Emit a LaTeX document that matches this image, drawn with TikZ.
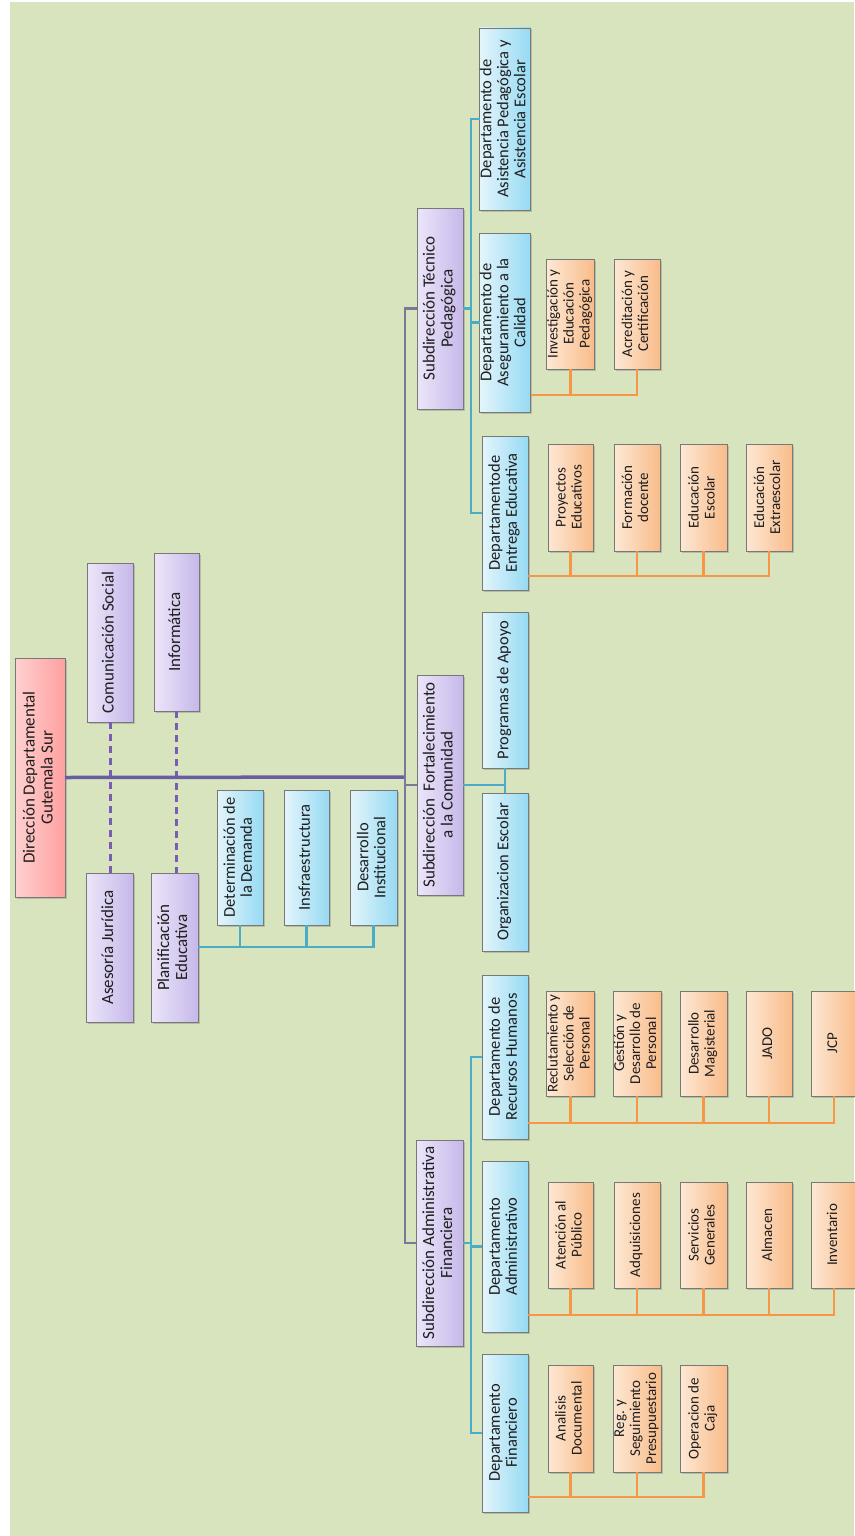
\documentclass[tikz,border=0pt]{standalone}
\usepackage{fontspec}
\setmainfont{Carlito}
\usepackage{graphicx}
\usetikzlibrary{shadows}
\definecolor{bgc}{RGB}{216,228,189}
\definecolor{txt}{RGB}{30,30,30}
\definecolor{bord}{RGB}{120,120,120}
\definecolor{pinkL}{RGB}{255,208,208}
\definecolor{pinkR}{RGB}{255,160,160}
\definecolor{purL}{RGB}{236,230,249}
\definecolor{purR}{RGB}{198,184,234}
\definecolor{bluL}{RGB}{228,245,251}
\definecolor{bluR}{RGB}{150,218,243}
\definecolor{orL}{RGB}{253,232,212}
\definecolor{orR}{RGB}{249,188,138}
\definecolor{trunkc}{RGB}{104,92,162}
\definecolor{busc}{RGB}{122,122,152}
\definecolor{dashc}{RGB}{122,92,182}
\definecolor{tealc}{RGB}{75,172,198}
\definecolor{orc}{RGB}{247,150,70}
\newcommand\rt[1]{\rotatebox{90}{\begin{tabular}{@{}c@{}}#1\end{tabular}}}
\newcommand\bx[7]{\node[#1, minimum width={(#5-#3)*1pt}, minimum height={(#6-#4)*1pt}] (#2) at ({(#3+#5)/2},{(#4+#6)/2}) {\rt{#7}};}
\tikzset{
  every node/.style={inner sep=0pt, outer sep=0pt, text=txt},
  box/.style={draw=bord, line width=0.7pt, rectangle, drop shadow={shadow xshift=1.5pt, shadow yshift=-1.5pt, opacity=0.3, fill=black!60}},
  pinkbox/.style={box, left color=pinkL, right color=pinkR, font=\fontsize{17}{18}\selectfont},
  purbox/.style={box, left color=purL, right color=purR, font=\fontsize{17}{18}\selectfont},
  blubox/.style={box, left color=bluL, right color=bluR, font=\fontsize{16.5}{17}\selectfont},
  orbox/.style={box, left color=orL, right color=orR, font=\fontsize{15}{16}\selectfont},
  trunk/.style={draw=trunkc, line width=3.5pt},
  busl/.style={draw=busc, line width=2.5pt},
  dsh/.style={draw=dashc, line width=3pt, dash pattern=on 7pt off 5pt},
  tl/.style={draw=tealc, line width=2.5pt},
  ol/.style={draw=orc, line width=2.5pt},
}
\begin{document}
\begin{tikzpicture}[x=1pt, y=-1pt]
\useasboundingbox (0,0) rectangle (854,1536);
\fill[white] (0,0) rectangle (854,1536);
\fill[bgc] (10,2) rectangle (854,1536);
% top level and staff
\bx{pinkbox}{dir}{15}{658}{65}{897}{Dirección Departamental\\Gutemala Sur}
\bx{purbox}{com}{87}{563}{133}{722}{Comunicación Social}
\bx{purbox}{inf}{154}{553}{199}{711}{Informática}
\bx{purbox}{ase}{86}{873}{133}{1022}{Asesoría Jurídica}
\bx{purbox}{pla}{151}{873}{198}{1022}{Planificación\\Educativa}
\bx{blubox}{det}{217}{790}{263}{925}{Determinación de\\la Demanda}
\bx{blubox}{infr}{284}{790}{329}{925}{Insfraestructura}
\bx{blubox}{dins}{350}{790}{397}{925}{Desarrollo\\Institucional}
% subdirecciones
\bx{purbox}{tec}{417}{208}{463}{409}{Subdirección Técnico\\Pedagógica}
\bx{purbox}{fort}{417}{675}{463}{895}{Subdirección\ \ Fortalecimiento\\a la Comunidad}
\bx{purbox}{sadm}{416}{1140}{463}{1346}{Subdirección Administrativa\\Financiera}
% departamentos
\bx{blubox}{asis}{482}{28}{528}{210}{Departamento de\\Asistencia Pedagógica y\\Asistencia Escolar}
\bx{blubox}{aseg}{482}{233}{528}{412}{Departamento de\\Aseguramiento a la\\Calidad}
\bx{blubox}{ent}{482}{436}{528}{590}{Departamentode\\Entrega Educativa}
\bx{blubox}{prog}{482}{612}{528}{768}{Programas de Apoyo}
\bx{blubox}{org}{482}{793}{528}{951}{Organizacion Escolar}
\bx{blubox}{rh}{482}{975}{528}{1139}{Departamento de\\Recursos Humanos}
\bx{blubox}{dadm}{482}{1161}{528}{1332}{Departamento\\Administrativo}
\bx{blubox}{dfin}{482}{1354}{528}{1512}{Departamento\\Financiero}
% unidades
\bx{orbox}{inv}{548}{259}{593}{369}{Investigación y\\Educación\\Pedagógica}
\bx{orbox}{acr}{614}{259}{660}{369}{Acreditación y\\Certificación}
\bx{orbox}{pro}{548}{444}{593}{551}{Proyectos\\Educativos}
\bx{orbox}{fdoc}{614}{444}{660}{551}{Formación\\docente}
\bx{orbox}{esc}{680}{444}{727}{551}{Educación\\Escolar}
\bx{orbox}{eex}{746}{444}{792}{551}{Educación\\Extraescolar}
\bx{orbox}{rec}{548}{991}{593}{1096}{Reclutamiento y\\Selección de\\Personal}
\bx{orbox}{ges}{614}{991}{660}{1096}{Gestión y\\Desarrollo de\\Personal}
\bx{orbox}{dmag}{680}{991}{727}{1096}{Desarrollo\\Magisterial}
\bx{orbox}{jado}{746}{991}{792}{1096}{JADO}
\bx{orbox}{jcp}{811}{991}{857}{1096}{JCP}
\bx{orbox}{aten}{548}{1182}{593}{1288}{Atención al\\Público}
\bx{orbox}{adq}{614}{1182}{660}{1288}{Adquisiciones}
\bx{orbox}{serv}{680}{1182}{727}{1288}{Servicios\\Generales}
\bx{orbox}{alm}{746}{1182}{792}{1288}{Almacen}
\bx{orbox}{invt}{811}{1182}{857}{1288}{Inventario}
\bx{orbox}{ana}{548}{1365}{593}{1472}{Analisis\\Documental}
\bx{orbox}{reg}{614}{1365}{660}{1472}{Reg. y\\Seguimiento\\Presupuestario}
\bx{orbox}{ope}{680}{1365}{727}{1472}{Operacion de\\Caja}
% staff dashed links
\draw[dsh] (com.south) -- (com.south |- ase.north);
\draw[dsh] (inf.south) -- (inf.south |- pla.north);
% trunk and bus
\coordinate (bx) at (405,777);
\draw[trunk] (dir.east) -- (bx);
\draw[busl] (tec.west) -| (bx) |- (sadm.west);
\draw[busl] (bx |- fort.west) -- (fort.west);
% planificacion
\coordinate (pT) at (pla.east |- 0,947);
\draw[tl] (pT) -| (dins.south);
\draw[tl] (det.south) -- (det.south |- pT);
\draw[tl] (infr.south) -- (infr.south |- pT);
% tecnico teal
\coordinate (tbx) at (471,0);
\draw[tl] (tec.east) -- (tec.east -| tbx);
\draw[tl] (asis.west) -| (tbx |- ent.west) -- (ent.west);
\draw[tl] (aseg.west) -- (aseg.west -| tbx);
% fortalecimiento teal
\draw[tl] (fort.east) -| (prog.south);
\draw[tl] (fort.east -| org.north) -- (org.north);
% administrativa teal
\draw[tl] (sadm.east) -- (sadm.east -| tbx);
\draw[tl] (rh.west) -| (tbx |- dfin.west) -- (dfin.west);
\draw[tl] (dadm.west) -- (dadm.west -| tbx);
% orange connectors
\coordinate (oA) at (aseg.east |- 0,395);
\draw[ol] (oA) -| (acr.south);
\draw[ol] (inv.south) -- (inv.south |- oA);
\coordinate (oE) at (ent.east |- 0,576);
\draw[ol] (oE) -| (eex.south);
\foreach \n in {pro,fdoc,esc} \draw[ol] (\n.south) -- (\n.south |- oE);
\coordinate (oR) at (rh.east |- 0,1123);
\draw[ol] (oR) -| (jcp.south);
\foreach \n in {rec,ges,dmag,jado} \draw[ol] (\n.south) -- (\n.south |- oR);
\coordinate (oD) at (dadm.east |- 0,1315);
\draw[ol] (oD) -| (invt.south);
\foreach \n in {aten,adq,serv,alm} \draw[ol] (\n.south) -- (\n.south |- oD);
\coordinate (oF) at (dfin.east |- 0,1497);
\draw[ol] (oF) -| (ope.south);
\foreach \n in {ana,reg} \draw[ol] (\n.south) -- (\n.south |- oF);
\end{tikzpicture}
\end{document}
